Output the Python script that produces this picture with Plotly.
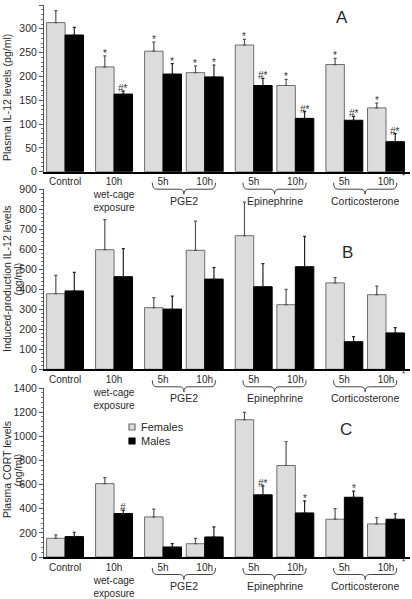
import plotly.graph_objects as go

# ---------------- data ----------------
conditions = ["Control", "10h wet-cage exposure", "PGE2 5h", "PGE2 10h",
              "Epinephrine 5h", "Epinephrine 10h", "Corticosterone 5h", "Corticosterone 10h"]
groups = ["Control", "Wet-cage", "PGE2", "PGE2", "Epinephrine", "Epinephrine",
          "Corticosterone", "Corticosterone"]
tick_labels = ["Control", "10h<br>wet-cage<br>exposure", "5h", "10h", "5h", "10h", "5h", "10h"]
bracket_groups = ["PGE2", "Epinephrine", "Corticosterone"]
series_names = ["Females", "Males"]

# Panel A: plasma IL-12 (pg/ml)
il12_females = [313, 220, 253, 208, 266, 181, 225, 134]
il12_females_sem = [25, 23, 19, 14, 12, 13, 13, 10]
il12_males = [287, 163, 205, 199, 181, 112, 108, 63]
il12_males_sem = [16, 6, 22, 25, 15, 14, 8, 17]
il12_females_sig = ["", "*", "*", "*", "*", "*", "*", "*"]
il12_males_sig = ["", "#*", "*", "*", "#*", "#*", "#*", "#*"]

# Panel B: induced-production IL-12 (pg/ml)
ind_females = [378, 598, 308, 595, 668, 323, 432, 373]
ind_females_sem = [92, 150, 50, 146, 168, 77, 26, 43]
ind_males = [392, 463, 301, 451, 413, 513, 138, 182]
ind_males_sem = [93, 140, 65, 57, 115, 152, 25, 26]
ind_females_sig = [""] * 8
ind_males_sig = [""] * 8

# Panel C: plasma CORT (ng/ml)
cort_females = [155, 608, 332, 110, 1137, 758, 313, 274]
cort_females_sem = [28, 50, 64, 45, 61, 199, 88, 52]
cort_males = [169, 360, 83, 166, 515, 365, 495, 313]
cort_males_sem = [36, 27, 27, 83, 74, 100, 50, 44]
cort_females_sig = [""] * 8
cort_males_sig = ["", "#", "", "", "#*", "*", "*", ""]

# ---------------- layout helpers ----------------
FONT = "Liberation Sans, Arial, sans-serif"
TXT = "#2a2a2a"
F_FILL = "#dcdcdc"
F_LINE = "#6e6e6e"
M_FILL = "#000000"
W, H = 412, 599

# x positions: pairs within the same treatment sit closer together
pos = []
for i, g in enumerate(groups):
    if i == 0:
        pos.append(0.0)
    elif g == groups[i - 1]:
        pos.append(pos[-1] + 0.85)
    else:
        pos.append(pos[-1] + 1.0)
bw = 0.377
x_f = [p - bw / 2 for p in pos]
x_m = [p + bw / 2 for p in pos]
XRANGE = [-0.43, 7.04]


def py(px):
    return 1 - px / H


def pxx(px):
    return px / W


panels = [
    dict(f=il12_females, fs=il12_females_sem, m=il12_males, ms=il12_males_sem,
         fsig=il12_females_sig, msig=il12_males_sig,
         top=5, bottom=171.7, ymax=350, dtick=50,
         title_lines=["Plasma IL-12 levels (pg/ml)"], title_xs=[7], title_y=98,
         letter="A", letter_xy=(342, 17)),
    dict(f=ind_females, fs=ind_females_sem, m=ind_males, ms=ind_males_sem,
         fsig=ind_females_sig, msig=ind_males_sig,
         top=189.3, bottom=369.3, ymax=900, dtick=100,
         title_lines=["Induced-production IL-12 levels", "(pg/ml)"], title_xs=[7, 17.5],
         title_y=279, letter="B", letter_xy=(347, 252)),
    dict(f=cort_females, fs=cort_females_sem, m=cort_males, ms=cort_males_sem,
         fsig=cort_females_sig, msig=cort_males_sig,
         top=388, bottom=557, ymax=1400, dtick=200,
         title_lines=["Plasma CORT levels", "(ng/ml)"], title_xs=[7, 17.5], title_y=470,
         letter="C", letter_xy=(346, 429)),
]

fig = go.Figure()
annotations = []
shapes = []

for k, p in enumerate(panels):
    n = "" if k == 0 else str(k + 1)
    xa, ya = "x" + n, "y" + n
    fig.add_trace(go.Bar(
        x=x_f, y=p["f"], width=bw, name=series_names[0], xaxis=xa, yaxis=ya,
        marker=dict(color=F_FILL, line=dict(color=F_LINE, width=1)),
        error_y=dict(type="data", symmetric=False, array=p["fs"], arrayminus=[0] * 8,
                     color="#555555", thickness=1.2, width=1.5),
        showlegend=False,
        customdata=conditions, hovertemplate="%{customdata}<br>Females: %{y}<extra></extra>"))
    fig.add_trace(go.Bar(
        x=x_m, y=p["m"], width=bw, name=series_names[1], xaxis=xa, yaxis=ya,
        marker=dict(color=M_FILL, line=dict(color="#000000", width=1)),
        error_y=dict(type="data", symmetric=False, array=p["ms"], arrayminus=[0] * 8,
                     color="#222222", thickness=1.2, width=1.5),
        showlegend=False,
        customdata=conditions, hovertemplate="%{customdata}<br>Males: %{y}<extra></extra>"))

    ydom = [py(p["bottom"]), py(p["top"])]
    fig.update_layout(**{
        ("xaxis" + n): dict(
            domain=[pxx(44), pxx(410)], range=XRANGE, anchor=ya, automargin=False,
            showline=True, linecolor="#000000", linewidth=1.5,
            tickmode="array", tickvals=pos, ticktext=tick_labels,
            ticks="", showgrid=False, zeroline=False,
            tickfont=dict(family=FONT, size=10, color=TXT)),
        ("yaxis" + n): dict(
            domain=ydom, range=[0, p["ymax"]], anchor=xa, dtick=p["dtick"],
            automargin=False,
            showline=True, linecolor="#555555", linewidth=1,
            ticks="outside", ticklen=4, tickcolor="#555555", tickwidth=1,
            minor=dict(dtick=p["dtick"] / 5, ticks="outside", ticklen=2,
                       tickcolor="#777777", tickwidth=1),
            showgrid=False, zeroline=False,
            tickfont=dict(family=FONT, size=10.5, color=TXT)),
    })

    # significance marks
    for vals, sems, sig, xs in ((p["f"], p["fs"], p["fsig"], x_f),
                                (p["m"], p["ms"], p["msig"], x_m)):
        for xv, v, s, t in zip(xs, vals, sems, sig):
            if t:
                annotations.append(dict(
                    x=xv, y=v + s, xref=xa, yref=ya, text=t, showarrow=False,
                    yanchor="bottom", yshift=-5,
                    font=dict(family=FONT, size=10, color="#333333")))

    # braces + treatment group names
    axis_px = p["bottom"]
    for g in bracket_groups:
        idx = [i for i, gg in enumerate(groups) if gg == g]
        x0 = pos[idx[0]] - 0.22
        x1 = pos[idx[-1]] + 0.22
        xc = (x0 + x1) / 2
        d = 0.09
        yT, yM, yB = py(axis_px + 11), py(axis_px + 17.5), py(axis_px + 22.5)
        path = (f"M {x0},{yT} Q {x0},{yM} {x0 + d},{yM} L {xc - d},{yM} "
                f"Q {xc},{yM} {xc},{yB} Q {xc},{yM} {xc + d},{yM} "
                f"L {x1 - d},{yM} Q {x1},{yM} {x1},{yT}")
        shapes.append(dict(type="path", path=path, xref=xa, yref="paper",
                           line=dict(color="#444444", width=1)))
        annotations.append(dict(
            x=xc, y=py(axis_px + 29), xref=xa, yref="paper", text=g, showarrow=False,
            xanchor="center", yanchor="middle",
            font=dict(family=FONT, size=10.5, color=TXT)))

    # small asterisk at the right end of the axis
    annotations.append(dict(
        x=6.9, y=py(axis_px + 4), xref=xa, yref="paper", text="*", showarrow=False,
        xanchor="center", yanchor="middle", font=dict(family=FONT, size=8, color=TXT)))

    # y-axis title (one annotation per line, rotated)
    for line, tx in zip(p["title_lines"], p["title_xs"]):
        annotations.append(dict(
            x=pxx(tx), y=py(p["title_y"]), xref="paper", yref="paper",
            text=line, textangle=-90, showarrow=False,
            xanchor="center", yanchor="middle",
            font=dict(family=FONT, size=10.5, color=TXT)))

    # panel letter
    annotations.append(dict(
        x=pxx(p["letter_xy"][0]), y=py(p["letter_xy"][1]), xref="paper", yref="paper",
        text=p["letter"], showarrow=False, xanchor="center", yanchor="middle",
        font=dict(family=FONT, size=17, color=TXT)))

# legend (drawn as key squares + labels inside panel C)
legend_fills = [(F_FILL, F_LINE), (M_FILL, "#000000")]
for j, (nm, (fc, lc)) in enumerate(zip(series_names, legend_fills)):
    cy = 427 + j * 14
    shapes.append(dict(type="rect", xref="paper", yref="paper",
                       x0=pxx(129), x1=pxx(135), y0=py(cy + 3), y1=py(cy - 3),
                       fillcolor=fc, line=dict(color=lc, width=1.2)))
    annotations.append(dict(
        x=pxx(139), y=py(cy), xref="paper", yref="paper", text=nm, showarrow=False,
        xanchor="left", yanchor="middle", font=dict(family=FONT, size=11, color=TXT)))

fig.update_layout(
    width=W, height=H,
    margin=dict(l=0, r=0, t=0, b=0, autoexpand=False),
    paper_bgcolor="white", plot_bgcolor="white",
    barmode="overlay",
    showlegend=False,
    annotations=annotations,
    shapes=shapes,
    font=dict(family=FONT, color=TXT),
)

fig.write_html("out.html", config={"displayModeBar": False},
               post_script="document.body.style.margin='0';")
